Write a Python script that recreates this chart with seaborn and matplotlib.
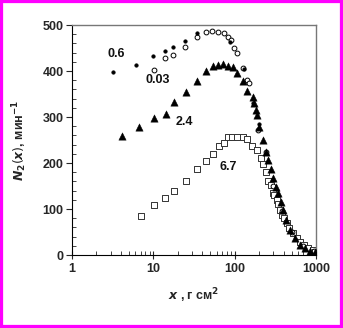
import matplotlib
matplotlib.use("Agg")
import matplotlib.pyplot as plt
import seaborn as sns
import numpy as np
import pandas as pd
from matplotlib.patches import Rectangle
from matplotlib.ticker import LogLocator, MultipleLocator, FixedLocator

sns.set_style("white")
plt.rcParams['font.family'] = ['Liberation Sans', 'DejaVu Sans']

# series 0.6 (small filled dots)
x_06 = [3.2, 6.2, 9.8, 13.9, 17.3, 24.5, 34, 88, 130, 170, 200]
y_06 = [398, 414, 433, 444, 453, 466, 482, 464, 405, 330, 285]

# series 0.03 (open circles)
x_003 = [10.3, 13.9, 17.6, 24.5, 34, 44, 52, 63, 74, 82, 90, 97, 106, 126, 141, 148, 196, 240, 300, 380, 500, 700, 950]
y_003 = [402, 428, 435, 453, 473, 484, 487, 484, 482, 475, 467, 449, 440, 406, 380, 373, 272, 225, 150, 95, 50, 20, 8]

# series 2.4 (filled triangles)
x_24 = [4.1, 6.7, 10.2, 14.2, 18, 25, 34, 44.5, 54.7, 63, 72.6, 83.7, 94.6, 106, 128, 143, 167, 173, 183, 187,
        201, 226, 241, 260, 278, 300, 323, 345, 369, 398, 429, 480, 553, 637, 735, 846, 975]
y_24 = [259, 279, 298, 306, 333, 355, 378, 400, 411, 413, 415, 411, 409, 396, 378, 357, 344, 330, 315, 304,
        279, 250, 225, 207, 188, 167, 148, 134, 116, 98, 76, 54, 36, 22, 15, 9, 6]

# series 6.7 (open squares)
x_67 = [7.1, 10.2, 14.1, 18, 25, 34.8, 44.5, 53.8, 63.7, 74, 82, 93.7, 108, 126, 143, 165, 187, 210, 226, 241,
        260, 278, 294, 305, 330, 345, 361, 379, 405, 437, 471, 519, 580, 637, 714, 806, 912, 975]
y_67 = [85, 108, 123, 140, 161, 186, 204, 220, 236, 244, 256, 256, 256, 256, 252, 238, 228, 210, 198, 181,
        161, 152, 134, 130, 120, 111, 98, 87, 80, 69, 58, 47, 36, 29, 22, 15, 11, 7]

labels = ["0.6", "0.03", "2.4", "6.7"]
label_pos = [(2.7, 437), (7.9, 380), (19, 289), (66, 191)]

xticks = [1, 10, 100, 1000]
xtick_labels = ["1", "10", "100", "1000"]
yticks = [0, 100, 200, 300, 400, 500]

fig = plt.figure(figsize=(3.43, 3.28), dpi=100)
ax = fig.add_axes([72/343, 1-255/328, (316-72)/343, (255-25)/328])

sns.scatterplot(x=x_06, y=y_06, ax=ax, marker='o', s=7, color='black', edgecolor='black', linewidth=0.3, zorder=4)
sns.scatterplot(x=x_003, y=y_003, ax=ax, marker='o', s=12, facecolor='white', edgecolor='black', linewidth=0.7, zorder=3)
sns.scatterplot(x=x_24, y=y_24, ax=ax, marker='^', s=28, color='black', edgecolor='black', linewidth=0.3, zorder=3)
sns.scatterplot(x=x_67, y=y_67, ax=ax, marker='s', s=24, facecolor='white', edgecolor='#333333', linewidth=0.7, zorder=2)

for t, (px, py) in zip(labels, label_pos):
    ax.text(px, py, t, fontsize=9, fontweight='bold', ha='left', va='center', color='#111111')

ax.set_xscale('log')
ax.set_xlim(1, 1000)
ax.set_ylim(0, 500)
ax.xaxis.set_major_locator(FixedLocator(xticks))
ax.set_xticklabels(xtick_labels)
ax.xaxis.set_minor_locator(LogLocator(base=10, subs=np.arange(2, 10)))
ax.xaxis.set_minor_formatter(matplotlib.ticker.NullFormatter())
ax.yaxis.set_major_locator(FixedLocator(yticks))
ax.yaxis.set_minor_locator(MultipleLocator(20))

ax.tick_params(axis='x', which='major', direction='inout', length=6, width=0.8, labelsize=9, pad=3)
ax.tick_params(axis='x', which='minor', direction='in', length=3, width=0.6)
ax.tick_params(axis='y', which='major', direction='out', length=4, width=0.8, labelsize=9, pad=2)
ax.tick_params(axis='y', which='minor', direction='in', length=3, width=0.6)
ax.tick_params(axis='both', which='both', bottom=True, left=True, top=False, right=False)
for lab in ax.get_xticklabels() + ax.get_yticklabels():
    lab.set_fontweight('bold')

for side in ['left', 'bottom']:
    ax.spines[side].set_color('black')
    ax.spines[side].set_linewidth(0.8)
for side in ['top', 'right']:
    ax.spines[side].set_visible(True)
    ax.spines[side].set_color('#777777')
    ax.spines[side].set_linewidth(1.0)

ax.set_xlabel(r'$\boldsymbol{x}$' + ' , г см$^{\\mathbf{2}}$', fontsize=9, fontweight='bold', labelpad=8)
ax.set_ylabel(r'$\boldsymbol{N}_{\mathbf{2}}(\boldsymbol{x})$' + ', мин$^{\\mathbf{-1}}$', fontsize=9, fontweight='bold', labelpad=10)

fig.patches.append(Rectangle((0, 0), 1, 1, transform=fig.transFigure, fill=False,
                             edgecolor='#ff00ff', linewidth=4.5, zorder=10))

fig.savefig('out.png', dpi=100, facecolor='white')
